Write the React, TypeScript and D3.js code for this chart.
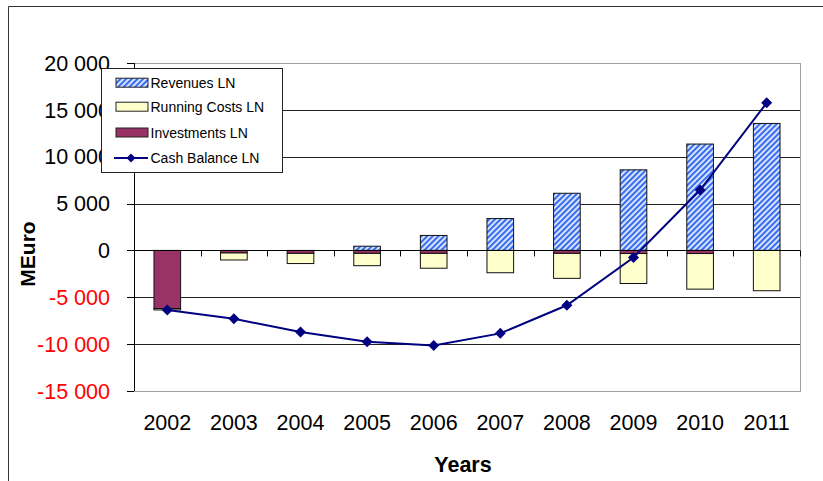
import React from "react";
import * as d3 from "d3";

const years = ["2002", "2003", "2004", "2005", "2006", "2007", "2008", "2009", "2010", "2011"];
const revenues = [0, 0, 0, 450, 1600, 3400, 6100, 8600, 11350, 13550];
const investments = [-6200, -250, -300, -300, -300, 0, -300, -330, -330, 0];
const runningCosts = [-150, -770, -1100, -1330, -1600, -2380, -2680, -3200, -3800, -4300];
const cashBalance = [-6350, -7300, -8700, -9750, -10150, -8850, -5850, -750, 6450, 15750];
const yTicks = [20000, 15000, 10000, 5000, 0, -5000, -10000, -15000];

const W = 823;
const H = 481;
const plot = { left: 134, right: 800, top: 63, bottom: 391 };
const FONT = "'Liberation Sans', Arial, sans-serif";
const NAVY = "#000080";
const MAROON = "#993366";
const CREAM = "#ffffcc";

const fmt = (v: number) => {
  const s = Math.abs(v).toString().replace(/\B(?=(\d{3})+(?!\d))/g, " ");
  return (v < 0 ? "-" : "") + s;
};

function Diamond({ x, y, r }: { x: number; y: number; r: number }) {
  return (
    <path d={`M${x},${y - r}L${x + r},${y}L${x},${y + r}L${x - r},${y}Z`} fill={NAVY} />
  );
}

export default function App() {
  const x = d3
    .scaleBand<string>()
    .domain(years)
    .range([plot.left, plot.right])
    .paddingInner(0.6)
    .paddingOuter(0.3);
  const y = d3.scaleLinear().domain([-15000, 20000]).range([plot.bottom, plot.top]);
  const step = x.step();
  const bw = x.bandwidth();
  const cx = (i: number) => (x(years[i]) as number) + bw / 2;

  const line = d3
    .line<number>()
    .x((_, i) => cx(i))
    .y((d) => y(d));

  const legendItems = [
    { label: "Revenues LN", kind: "hatch" },
    { label: "Running Costs LN", kind: "cream" },
    { label: "Investments LN", kind: "maroon" },
    { label: "Cash Balance LN", kind: "line" },
  ];
  const legendRowsY = [82.7, 106.7, 132.5, 158];

  return (
    <svg
      width={W}
      height={H}
      style={{ position: "absolute", left: 0, top: 0, background: "#fff" }}
      fontFamily={FONT}
    >
      <defs>
        <pattern
          id="hatch"
          width="4"
          height="4"
          patternUnits="userSpaceOnUse"
          patternTransform="rotate(45)"
        >
          <rect width="4" height="4" fill="#d6e4ff" />
          <line x1="1" y1="0" x2="1" y2="4" stroke="#3a6cf0" strokeWidth="2" />
        </pattern>
      </defs>

      {/* outer chart frame */}
      <path d={`M8.5,${H}V6.5H${W}`} fill="none" stroke="#333" strokeWidth={1} />

      {/* plot area border */}
      <rect
        x={plot.left + 0.5}
        y={plot.top + 0.5}
        width={plot.right - plot.left}
        height={plot.bottom - plot.top}
        fill="none"
        stroke="#a0a0a0"
      />

      {/* horizontal gridlines */}
      {yTicks
        .filter((t) => t !== 20000 && t !== -15000)
        .map((t) => (
          <line
            key={t}
            x1={plot.left}
            x2={plot.right}
            y1={Math.round(y(t)) + 0.5}
            y2={Math.round(y(t)) + 0.5}
            stroke={t === 0 ? "#000" : "#222"}
          />
        ))}

      {/* y axis */}
      <line x1={plot.left + 0.5} x2={plot.left + 0.5} y1={plot.top} y2={plot.bottom} stroke="#000" />
      {yTicks.map((t) => (
        <g key={t}>
          <line
            x1={plot.left - 7}
            x2={plot.left}
            y1={Math.round(y(t)) + 0.5}
            y2={Math.round(y(t)) + 0.5}
            stroke="#000"
          />
          <text
            x={110}
            y={y(t)}
            dy="0.36em"
            textAnchor="end"
            fontSize={21.5}
            fill={t < 0 ? "#ff0000" : "#000"}
          >
            {fmt(t)}
          </text>
        </g>
      ))}

      {/* bars */}
      {years.map((yr, i) => {
        const x0 = x(yr) as number;
        const invBottom = y(investments[i]);
        const costBottom = y(investments[i] + runningCosts[i]);
        return (
          <g key={yr} stroke="#111" strokeWidth={1}>
            {revenues[i] > 0 && (
              <rect x={x0} y={y(revenues[i])} width={bw} height={y(0) - y(revenues[i])} fill="url(#hatch)" />
            )}
            <rect x={x0} y={invBottom} width={bw} height={costBottom - invBottom} fill={CREAM} />
            {investments[i] < 0 && (
              <rect x={x0} y={y(0)} width={bw} height={invBottom - y(0)} fill={MAROON} />
            )}
          </g>
        );
      })}

      {/* x axis with category separators */}
      <line x1={plot.left} x2={plot.right} y1={Math.round(y(0)) + 0.5} y2={Math.round(y(0)) + 0.5} stroke="#000" />
      {d3.range(years.length + 1).map((k) => (
        <line
          key={k}
          x1={Math.round(plot.left + k * step) + 0.5}
          x2={Math.round(plot.left + k * step) + 0.5}
          y1={y(0)}
          y2={y(0) + 6}
          stroke="#000"
        />
      ))}
      {years.map((yr, i) => (
        <text key={yr} x={cx(i)} y={430} textAnchor="middle" fontSize={21.5} fill="#000">
          {yr}
        </text>
      ))}

      {/* cash balance line */}
      <path d={line(cashBalance) || ""} fill="none" stroke={NAVY} strokeWidth={2} />
      {cashBalance.map((v, i) => (
        <Diamond key={i} x={cx(i)} y={y(v)} r={5.5} />
      ))}

      {/* axis titles */}
      <text x={463} y={471.5} textAnchor="middle" fontSize={21.5} fontWeight="bold">
        Years
      </text>
      <text
        transform={`translate(35,254) rotate(-90)`}
        textAnchor="middle"
        fontSize={21}
        fontWeight="bold"
      >
        MEuro
      </text>

      {/* legend */}
      <rect x={101.5} y={68.5} width={181} height={104} fill="#fff" stroke="#222" />
      {legendItems.map((it, k) => {
        const cy = legendRowsY[k];
        return (
          <g key={it.label}>
            {it.kind === "line" ? (
              <g>
                <line x1={114} x2={148} y1={cy} y2={cy} stroke={NAVY} strokeWidth={2} />
                <Diamond x={131} y={cy} r={4.5} />
              </g>
            ) : (
              <rect
                x={116}
                y={cy - 4.5}
                width={32}
                height={9}
                fill={it.kind === "hatch" ? "url(#hatch)" : it.kind === "cream" ? CREAM : MAROON}
                stroke="#222"
              />
            )}
            <text x={150.5} y={cy} dy="0.36em" fontSize={14} fill="#000">
              {it.label}
            </text>
          </g>
        );
      })}
    </svg>
  );
}
